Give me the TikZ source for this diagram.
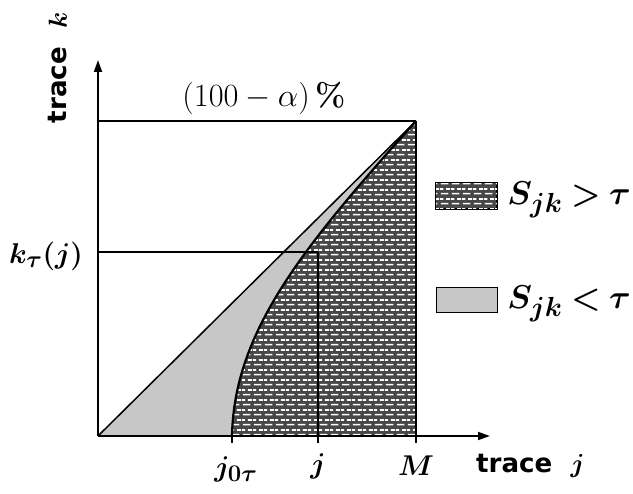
\documentclass[tikz,border=0pt]{standalone}
\usepackage{fontspec}
\usepackage{amsmath,bm}
\newfontfamily\labsans{DejaVu Sans}
\usetikzlibrary{patterns,arrows.meta}
\pgfdeclarepatternformonly{mybricks}{\pgfpointorigin}{\pgfpoint{11pt}{9.6pt}}{\pgfpoint{11pt}{9.6pt}}{%
  \pgfpathrectangle{\pgfpoint{1pt}{1.6pt}}{\pgfpoint{8pt}{1.7pt}}%
  \pgfpathrectangle{\pgfpoint{6.5pt}{6.4pt}}{\pgfpoint{4.5pt}{1.7pt}}%
  \pgfpathrectangle{\pgfpoint{0pt}{6.4pt}}{\pgfpoint{3.5pt}{1.7pt}}%
  \pgfusepath{fill}}
\tikzset{
  darkfill/.style={fill=black!72},
  brickover/.style={pattern=mybricks, pattern color=white},
  lightfill/.style={fill=black!22},
  axis/.style={line width=1.8pt, -{Triangle[length=12pt,width=8pt]}},
  thin line/.style={line width=1.5pt},
  thick line/.style={line width=2.2pt},
  lab/.style={inner sep=0pt, font=\fontsize{24.88}{28}\selectfont, scale=1.3, transform shape},
  bigmath/.style={inner sep=0pt, font=\fontsize{24.88}{28}\selectfont\boldmath, scale=1.33, transform shape},
  midmath/.style={inner sep=0pt, font=\fontsize{24.88}{28}\selectfont\boldmath, scale=1.15, transform shape},
  saxis/.style={inner sep=0pt, font=\fontsize{24.88}{28}\selectfont\labsans\bfseries\boldmath, scale=1.05, transform shape},
}
\newcommand{\legtxt}[1]{$S_{jk}\mkern-1mu#1\mkern-1mu\tau$}
\begin{document}
\begin{tikzpicture}[x=1pt,y=-1pt]
\useasboundingbox[fill=white] (0,0) rectangle (633,494);
% key points
\coordinate (O) at (98,436);
\coordinate (TR) at (416,121);
\coordinate (BR) at (416,436);
\coordinate (J0) at (232,436);
\coordinate (JB) at (318,436);
\coordinate (JT) at (318,252);
\coordinate (KL) at (98,252);
\coordinate (TL) at (98,121);
\coordinate (YT) at (98,60);
\coordinate (XR) at (490,436);
% light region
\path[lightfill] (O) -- (TR) .. controls (305,245) and (234,330) .. (J0) -- cycle;
% dark region
\path[darkfill] (J0) .. controls (234,330) and (305,245) .. (TR) -- (BR) -- cycle;
\path[brickover] (J0) .. controls (234,330) and (305,245) .. (TR) -- (BR) -- cycle;
% lines
\draw[thin line] (O) -- (TR);
\draw[thin line] (TL) -- (TR);
\draw[thin line] (KL) -- (JT);
\draw[thick line] (JT) -- (JB);
\draw[thick line] (TR) -- (BR);
\draw[thick line] (J0) .. controls (234,330) and (305,245) .. (TR);
% ticks
\draw[thick line] (J0) -- ++(0,7);
\draw[thick line] (JB) -- ++(0,7);
\draw[thick line] (BR) -- ++(0,7);
% axes
\draw[axis] (O) -- (YT);
\draw[axis] (O) -- (XR);
% labels
\node[lab] (alpha) at (264,98) {$(100-\alpha)\,$\textbf{\%}};
\node[midmath] (kt) at (46,256) {$k_\tau(j)$};
\node[saxis, rotate=90] (tk) at (58,68) {trace \ $k$};
\node[saxis, anchor=west] (tj) at (476,466) {trace \ $j$};
\node[midmath] (j0) at (236,469) {$j_{0\tau}$};
\node[midmath] (jj) at (318,466) {$j$};
\node[midmath] (mm) at (416,466) {$M$};
% legend
\node[draw, line width=1pt, darkfill, minimum width=61pt, minimum height=26pt, inner sep=0pt] (lg1) at (466,196) {};
\path[brickover] (lg1.south west) rectangle (lg1.north east);
\draw[line width=1pt] (lg1.south west) rectangle (lg1.north east);
\node[draw, line width=1pt, lightfill, minimum width=61pt, minimum height=25pt, inner sep=0pt] (lg2) at (467,300) {};
\node[bigmath, anchor=west] (t1) at (507,200) {\legtxt{>}};
\node[bigmath, anchor=west] (t2) at (507,304) {\legtxt{<}};
\end{tikzpicture}
\end{document}
